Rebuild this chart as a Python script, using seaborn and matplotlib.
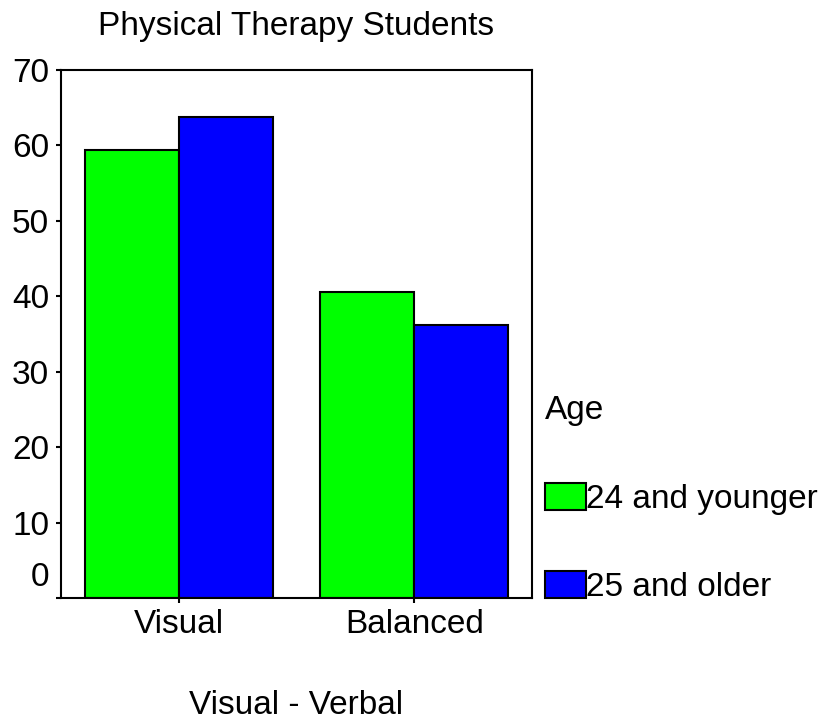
import matplotlib
matplotlib.use("Agg")
import matplotlib.pyplot as plt
import pandas as pd
import seaborn as sns

# datos (porcentaje por grupo de edad)
categorias = ["Visual", "Balanced"]
grupos = ["24 and younger", "25 and older"]
jovenes = [59.4, 40.6]
mayores = [63.8, 36.2]
colores = ["#00ff00", "#0000ff"]

sns.set_style("white")
plt.rcParams['font.family'] = ['Liberation Sans', 'DejaVu Sans']
plt.rcParams['text.color'] = 'black'
plt.rcParams['axes.labelcolor'] = 'black'
plt.rcParams['xtick.color'] = 'black'
plt.rcParams['ytick.color'] = 'black'

fs = 24

df = pd.DataFrame({
    "estilo": categorias * 2,
    "edad": [grupos[0]] * 2 + [grupos[1]] * 2,
    "valor": jovenes + mayores,
})

fig = plt.figure(figsize=(8.27, 7.23), dpi=100)
ax = fig.add_axes([61 / 827, 1 - 598 / 723, 471 / 827, 528 / 723])

sns.barplot(ax=ax, data=df, x="estilo", y="valor", hue="edad",
            order=categorias, hue_order=grupos, palette=colores,
            edgecolor="black", linewidth=1.5, width=0.8, saturation=1)

ax.set_xlim(-0.5, 1.5)
ax.set_ylim(0, 70)
ax.set_yticks(range(0, 71, 10))
ax.set_yticklabels([""] + [str(v) for v in range(10, 71, 10)])
# el 0 aparece algo desplazado hacia arriba
ax.annotate("0", xy=(0, 0), xycoords=("axes fraction", "data"),
            xytext=(-12, 20), textcoords="offset pixels",
            ha="right", va="center", fontsize=fs)

for s in ax.spines.values():
    s.set_visible(True)
    s.set_color("black")
    s.set_linewidth(1.5)

ax.tick_params(axis="y", direction="out", length=3.6, width=1.5, pad=5, labelsize=fs, left=True)
ax.tick_params(axis="x", direction="out", length=3.6, width=1.5, pad=4, labelsize=fs, bottom=True)

ax.set_ylabel("")
ax.set_xlabel("Visual - Verbal", fontsize=fs, labelpad=36)
ax.set_title("Physical Therapy Students", fontsize=fs, pad=25)

ax.legend(title="Age", fontsize=fs, title_fontsize=fs, frameon=False,
          loc="upper left", bbox_to_anchor=(545 / 827, 1 - 395 / 723),
          bbox_transform=fig.transFigure, borderpad=0, borderaxespad=0,
          handlelength=1.23, handleheight=0.87, handletextpad=0.0,
          labelspacing=1.7, alignment="left")

fig.savefig("out.png", dpi=100)
